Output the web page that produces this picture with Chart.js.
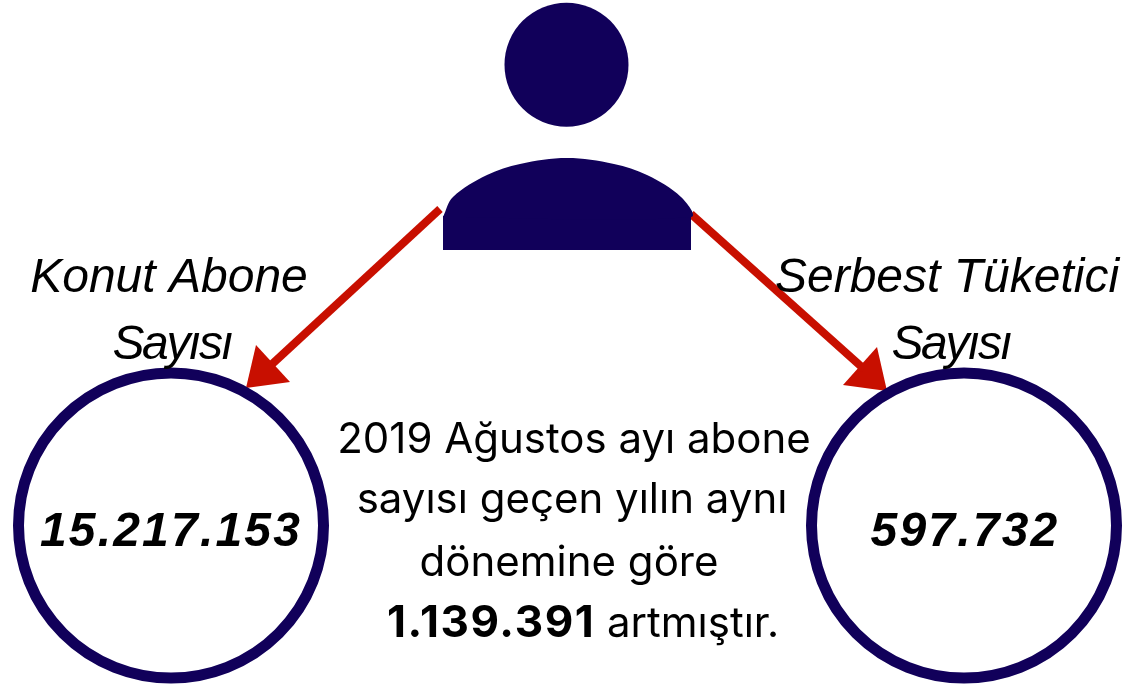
<!DOCTYPE html>
<html>
<head>
<meta charset="utf-8">
<script src="https://cdn.jsdelivr.net/npm/chart.js"></script>
<style>
  body { margin: 0; background: #fff; }
  canvas { display: block; }
</style>
</head>
<body>
<canvas id="c" width="1122" height="686"></canvas>
<script>
const headPoint = [{ x: 566.5, y: 64.7 }];
const ringPoints = [{ x: 171, y: 525.5 }, { x: 964, y: 525.5 }];
const bodyDome = [
  { x: 443, y: 217 }, { x: 453, y: 197 }, { x: 487, y: 175 },
  { x: 520, y: 164 }, { x: 567, y: 158 }, { x: 614, y: 164 }, { x: 647, y: 175 },
  { x: 681, y: 197 }, { x: 691, y: 217 }, { x: 443, y: 217 }
];
const bodyBase = [
  { x: 443, y: 250 }, { x: 443, y: 216 }, { x: 691, y: 216 }, { x: 691, y: 250 }, { x: 443, y: 250 }
];
const leftShaft = [{ x: 440, y: 209 }, { x: 270, y: 366 }];
const leftHead = [{ x: 246, y: 388 }, { x: 256, y: 345 }, { x: 290, y: 382 }, { x: 246, y: 388 }];
const rightShaft = [{ x: 691, y: 214 }, { x: 864, y: 369 }];
const rightHead = [{ x: 887, y: 391 }, { x: 877, y: 347 }, { x: 843, y: 385 }, { x: 887, y: 391 }];

const sideTitles = [
  { text: 'Konut Abone', x: 169, y: 292 },
  { text: 'Serbest Tüketici', x: 947, y: 292 }
];
const sideSubtitles = [
  { text: 'Sayısı', x: 172, y: 359 },
  { text: 'Sayısı', x: 951, y: 359 }
];
const bigNumbers = [
  { text: '15.217.153', x: 171, y: 546 },
  { text: '597.732', x: 965, y: 546 }
];
const noteLines = [
  { text: '2019 Ağustos ayı abone', x: 574, y: 453 },
  { text: 'sayısı geçen yılın aynı', x: 572, y: 513 },
  { text: 'dönemine göre', x: 569, y: 576 }
];
const noteBold = { text: '1.139.391', x: 387, y: 637 };
const noteRest = { text: 'artmıştır.', x: 607, y: 637 };

const navy = '#11005a';
const red = '#c80f00';

const textPlugin = {
  id: 'texts',
  afterDatasetsDraw(chart) {
    const { ctx, scales } = chart;
    const put = (item, font, align, spacing) => {
      ctx.font = font;
      ctx.textAlign = align;
      ctx.letterSpacing = spacing || '0px';
      ctx.fillText(item.text, scales.x.getPixelForValue(item.x), scales.y.getPixelForValue(item.y));
    };
    ctx.save();
    ctx.fillStyle = '#000';
    ctx.textBaseline = 'alphabetic';
    sideTitles.forEach(l => put(l, 'italic 48px "Liberation Sans"', 'center'));
    sideSubtitles.forEach(l => put(l, 'italic 48px "Liberation Sans"', 'center', '-2.4px'));
    bigNumbers.forEach(l => put(l, 'italic bold 48px "Liberation Sans"', 'center', '2.2px'));
    noteLines.forEach(l => put(l, '42px Inter', 'center'));
    put(noteBold, 'bold 44px Inter', 'left', '1.6px');
    put(noteRest, '42px Inter', 'left');
    ctx.restore();
  }
};

const lineSet = (data, color, width) => ({
  data, showLine: true, fill: false, borderColor: color, borderWidth: width,
  pointRadius: 0, tension: 0, clip: false
});
const shapeSet = (data, color, tension) => ({
  data, showLine: true, fill: 'shape', backgroundColor: color, borderColor: color,
  borderWidth: 0, pointRadius: 0, tension: tension, clip: false
});

new Chart(document.getElementById('c'), {
  type: 'scatter',
  data: {
    datasets: [
      { data: headPoint, pointRadius: 62, pointBackgroundColor: navy, pointBorderWidth: 0, clip: false },
      shapeSet(bodyDome, navy, 0.35),
      shapeSet(bodyBase, navy, 0),
      { data: ringPoints, pointRadius: 152.5, pointBackgroundColor: 'transparent',
        pointBorderColor: navy, pointBorderWidth: 11, clip: false },
      lineSet(leftShaft, red, 8),
      shapeSet(leftHead, red, 0),
      lineSet(rightShaft, red, 8),
      shapeSet(rightHead, red, 0)
    ]
  },
  options: {
    responsive: false,
    animation: false,
    layout: { padding: 0, autoPadding: false },
    plugins: { legend: { display: false }, tooltip: { enabled: false }, title: { display: false } },
    scales: {
      x: { type: 'linear', display: false, min: 0, max: 1122 },
      y: { type: 'linear', display: false, min: 0, max: 686, reverse: true }
    }
  },
  plugins: [textPlugin]
});
</script>
</body>
</html>
